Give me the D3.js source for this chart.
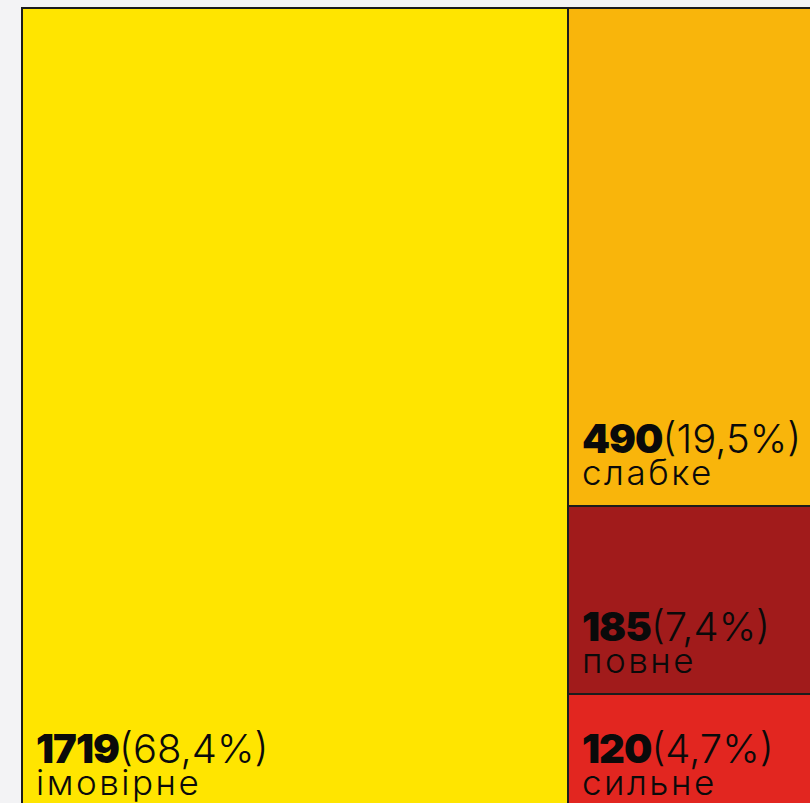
<!DOCTYPE html>
<html>
  <head>
    <meta charset="utf-8">
    <title>Treemap</title>
    <script src="https://d3js.org/d3.v7.min.js"></script>
    <style>
      html, body { margin: 0; padding: 0; background: #f3f3f5; overflow: hidden; }
      svg { display: block; }
      .num { font-family: Inter, "Open Sans", sans-serif; font-weight: 900; }
      .light { font-family: Inter, "Open Sans", sans-serif; font-weight: 300; }
    </style>
  </head>
  <body>
    <div id="chart"></div>
    <script>
      // data
      const categories = ["імовірне", "слабке", "повне", "сильне"];
      const values = [1719, 490, 185, 120];
      const shares = ["68,4%", "19,5%", "7,4%", "4,7%"];
      const colours = ["#ffe500", "#f9b50b", "#a11b1b", "#e22620"];

      const width = 810, height = 803;
      const origin = { x: 22, y: 8 };

      const svg = d3.select("#chart")
        .append("svg")
        .attr("width", width)
        .attr("height", height);

      // yellow on the left, the rest stacked in a column
      const tree = {
        name: "root",
        children: [
          { name: categories[0], value: values[0], i: 0 },
          { name: "rest", children: categories.slice(1).map((c, k) => ({ name: c, value: values[k + 1], i: k + 1 })) }
        ]
      };

      const root = d3.hierarchy(tree)
        .sum(d => d.value || 0);

      d3.treemap()
        .tile(d3.treemapSliceDice)
        .size([798, 808])
        .round(true)(root);

      const g = svg.append("g")
        .attr("transform", `translate(${origin.x},${origin.y})`);

      const cells = g.selectAll(".cell")
        .data(root.leaves())
        .enter().append("g")
          .attr("class", "cell");

      cells.append("rect")
        .attr("x", d => d.x0)
        .attr("y", d => d.y0)
        .attr("width", d => d.x1 - d.x0)
        .attr("height", d => d.y1 - d.y0)
        .attr("fill", d => colours[d.data.i])
        .attr("stroke", "#1c1c1c")
        .attr("stroke-width", 2);

      const label = cells.append("text")
        .attr("x", d => d.x0 + 14)
        .attr("y", d => d.y1 - 53)
        .attr("fill", "#0a0a0a")
        .style("font-size", "40px");

      label.append("tspan")
        .attr("class", "num")
        .style("letter-spacing", "-1px")
        .text(d => d.data.value);
      label.append("tspan")
        .attr("class", "light")
        .text(d => "(" + shares[d.data.i] + ")");

      cells.append("text")
        .attr("class", "light")
        .attr("x", d => d.x0 + 14)
        .attr("y", d => d.y1 - 21)
        .attr("fill", "#0a0a0a")
        .style("font-size", "35px")
        .style("letter-spacing", "2.5px")
        .text(d => d.data.name);
    </script>
  </body>
</html>
